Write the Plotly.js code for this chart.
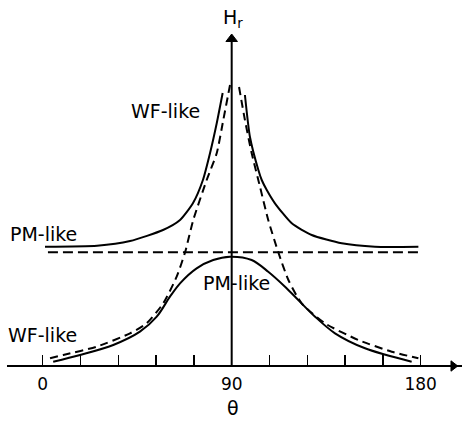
<!DOCTYPE html>
<html>
<head>
<meta charset="utf-8">
<script src="https://cdn.plot.ly/plotly-3.0.1.min.js"></script>
<style>html,body{margin:0;padding:0;background:#fff;}#chart{width:462px;height:421px;}</style>
</head>
<body>
<div id="chart"></div>
<script>
// Axis ticks (theta, degrees)
var tickVals = [0, 18, 36, 54, 72, 90, 108, 126, 144, 162, 180];
var tickText = ['0', '', '', '', '', '90', '', '', '', '', '180'];

// Upper solid curve (sharp peak on an offset)
var upperSolidTheta = [1.1, 25.9, 41.6, 57.3, 65.4, 71.6, 76.3, 79.7, 82.9, 85.7, null,
                       96.3, 98.7, 102.7, 104.3, 106.7, 110.6, 118.6, 128.1, 142.4, 158.2, 178.9];
var upperSolidH = [119.3, 120.3, 125, 136, 146, 163, 186, 213, 243, 273, null,
                   271, 229, 196, 186, 176, 162.7, 142.7, 131, 122.7, 119.3, 119.3];

// Horizontal dashed line (constant)
var flatTheta = [2.5, 180.6];
var flatH = [113.7, 113.7];

// Dashed peaked curve (from baseline to cusp)
var wfDashedTheta = [3.5, 9.8, 25.7, 41.6, 49.5, 57.4, 63.8, 67.8, 71.7, 78.1, 82.9, 86, 89.2, null,
                     93.5, 96.3, 99.5, 103.5, 107.4, 112.2, 117, 123.3, 134.4, 150.3, 166.2, 178.9];
var wfDashedH = [7.7, 11, 19.3, 32.7, 42.7, 62.7, 89.3, 113.7, 146, 186, 213, 246, 281, null,
                 279, 246, 213, 179, 146, 113.7, 86, 62.7, 42.7, 26, 14.3, 7.7];

// Lower solid bell curve
var bellTheta = [5, 17.8, 33.6, 46.3, 54.3, 60.6, 65.4, 73.3, 81.2, 89.2, 99.5, 107.4, 115.4, 121.7, 129.7, 139.2, 153.5, 175.7];
var bellH = [4.3, 11, 21, 34.3, 49.3, 69.3, 82.7, 97.7, 106, 109.3, 106, 94.3, 79.3, 66, 49.3, 32.7, 17.7, 4.3];

// Curve labels
var labelText = ['WF-like', 'PM-like', 'PM-like', 'WF-like'];

var FONT = 'DejaVu Sans, sans-serif';

var traces = [
  {x: upperSolidTheta, y: upperSolidH, mode: 'lines', line: {color: '#000', width: 2, shape: 'spline', smoothing: 0.6}, connectgaps: false, hoverinfo: 'skip'},
  {x: flatTheta, y: flatH, mode: 'lines', line: {color: '#000', width: 2, dash: '10px,5px'}, hoverinfo: 'skip'},
  {x: wfDashedTheta, y: wfDashedH, mode: 'lines', line: {color: '#000', width: 2, dash: '8px,5px', shape: 'spline', smoothing: 0.6}, connectgaps: false, hoverinfo: 'skip'},
  {x: bellTheta, y: bellH, mode: 'lines', line: {color: '#000', width: 2, shape: 'spline', smoothing: 0.9}, hoverinfo: 'skip'},
  // axis arrow heads
  {x: [90, 195.5], y: [327, 0], mode: 'markers', hoverinfo: 'skip',
   marker: {symbol: ['triangle-up', 'triangle-right'], size: [10, 9], color: '#000', opacity: 1,
            line: {width: 1, color: '#000'}}}
];

var annotations = [
  {x: 58.6, y: 255, text: labelText[0]},
  {x: 0.3, y: 132, text: labelText[1]},
  {x: 92.4, y: 83, text: labelText[2]},
  {x: -0.1, y: 31, text: labelText[3]}
].map(function (a) {
  return {x: a.x, y: a.y, xref: 'x', yref: 'y', text: a.text, showarrow: false,
          xanchor: 'center', yanchor: 'middle', font: {family: FONT, size: 19, color: '#000'}};
});

annotations.push({x: 90.6, y: 348, xref: 'x', yref: 'y', text: 'H<sub>r</sub>', showarrow: false,
  xanchor: 'center', yanchor: 'middle', font: {family: FONT, size: 19, color: '#000'}});
annotations.push({x: 90.5, y: -42, xref: 'x', yref: 'y', text: 'θ', showarrow: false,
  xanchor: 'center', yanchor: 'middle', font: {family: FONT, size: 19, color: '#000'}});

var layout = {
  width: 462, height: 421,
  margin: {l: 0, r: 0, t: 0, b: 0},
  paper_bgcolor: '#fff', plot_bgcolor: '#fff',
  showlegend: false,
  xaxis: {
    range: [-20.33, 199.67], anchor: 'free', position: 55 / 421,
    showgrid: false, zeroline: false, showline: false,
    ticks: 'inside', ticklen: 11, tickwidth: 1.5, tickcolor: '#000',
    tickmode: 'array', tickvals: tickVals, ticktext: tickText,
    ticklabelstandoff: 6,
    tickfont: {family: FONT, size: 17, color: '#000'}, fixedrange: true
  },
  yaxis: {
    range: [-55, 366], visible: false, showgrid: false, zeroline: false, fixedrange: true
  },
  shapes: [
    {type: 'line', xref: 'x', yref: 'y', x0: -17, x1: 199.67, y0: 0, y1: 0, line: {color: '#000', width: 2}},
    {type: 'line', xref: 'x', yref: 'y', x0: 90, x1: 90, y0: 0, y1: 324, line: {color: '#000', width: 2}}
  ],
  annotations: annotations
};

Plotly.newPlot('chart', traces, layout, {displayModeBar: false, staticPlot: true});
</script>
</body>
</html>
